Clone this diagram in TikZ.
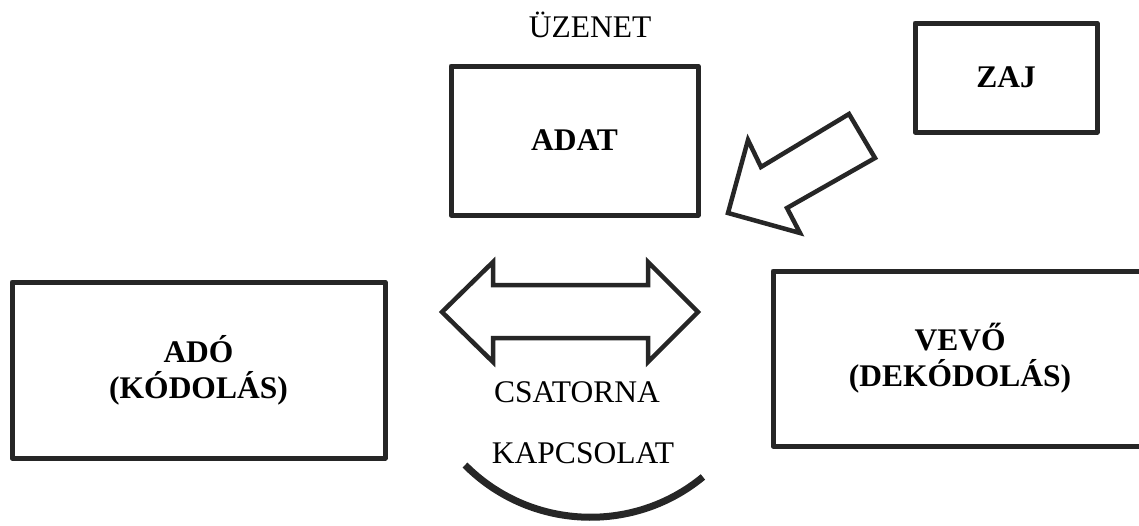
\documentclass[tikz,border=0pt]{standalone}
\usepackage{fontspec}
\setmainfont{Liberation Serif}
\usepackage{tikz}

\tikzset{
	box/.style={draw=black!85, rectangle, line width=5pt, line join=round, align=center, font=\fontsize{31.5}{36}\selectfont\bfseries},
	label/.style={font=\fontsize{31.5}{36}\selectfont},
	hollow/.style={draw=black!85, fill=white, line width=4.5pt, line join=miter}
}

\begin{document}
\begin{tikzpicture}[x=1pt, y=-1pt]
	\useasboundingbox (0,0) rectangle (1139,525);

	% Nodes {adat, zaj, ado, vevo}
	\node [box, minimum width=247pt, minimum height=149pt]	(adat)	at (574.5,140.5)	{ADAT};
	\node [box, minimum width=182pt, minimum height=109pt]	(zaj)	at (1006,77.5)		{ZAJ};
	\node [box, minimum width=373pt, minimum height=176pt]	(ado)	at (198.5,370)		{ADÓ\\(KÓDOLÁS)};
	\node [box, minimum width=374pt, minimum height=175pt]	(vevo)	at (960,358.5)		{VEVŐ\\(DEKÓDOLÁS)};

	% Labels
	\node [label]	(uzenet)	at (590,25)		{ÜZENET};
	\node [label]	(csatorna)	at (577,392)	{CSATORNA};
	\node [label]	(kapcsolat)	at (583,453)	{KAPCSOLAT};

	% Block arrows
	\draw [hollow] (728,213) -- (748,140) -- (761,167) -- (849,114) -- (875,158) -- (787,208) -- (800,233) -- cycle;
	\draw [hollow] (442,312) -- (493,262) -- (493,285) -- (648,285) -- (648,262) -- (698,312)
		-- (648,362) -- (648,338) -- (493,338) -- (493,362) -- cycle;

	% Arc under the channel
	\coordinate (arcl) at (465,465);
	\draw [black!85, line width=7pt] (arcl) arc [start angle=224.8, end angle=309.45, radius=176.9pt];

\end{tikzpicture}
\end{document}
